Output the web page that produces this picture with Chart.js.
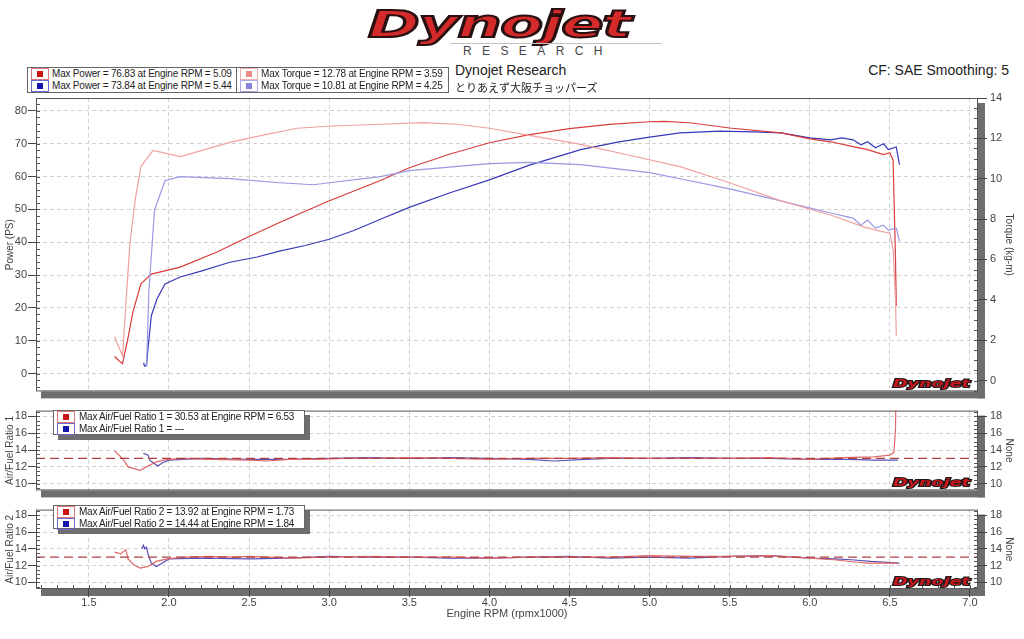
<!DOCTYPE html>
<html>
<head>
<meta charset="utf-8">
<script src="https://cdn.jsdelivr.net/npm/chart.js@4.4.0/dist/chart.umd.min.js"></script>
<style>
body { margin:0; width:1024px; height:639px; background:#fff; position:relative; overflow:hidden;
       font-family:"Liberation Sans", Arial, sans-serif; color:#222; }
canvas { position:absolute; left:0; z-index:1; }
.abs { position:absolute; z-index:3; white-space:nowrap; }
.lg { position:absolute; z-index:3; background:#fff; border:1px solid #666; box-sizing:border-box; font-size:10px; letter-spacing:-0.2px; }
.lg .row { position:relative; height:12px; line-height:12px; padding-left:24px; white-space:nowrap; overflow:hidden; }
.lg .sw { position:absolute; left:3px; top:0; width:18px; height:12px; border:1px solid; box-sizing:border-box; }
.lg .sw i { position:absolute; left:5px; top:2px; width:6px; height:6px; }
.afr { letter-spacing:-0.25px; }
.afr .row { padding-left:25px; }
.shadow { box-shadow:5px 5px 0 #6e6e6e; }
#logo { left:368px; top:2px; font:italic bold 40px "DejaVu Sans"; color:#d42a2a;
        -webkit-text-stroke:2.2px #2a1010; transform-origin:0 0; letter-spacing:-1px; }
</style>
</head>
<body>

<div id="logo" class="abs">Dynojet</div>
<div class="abs" style="left:450px; top:43px; width:212px; height:1px; background:#c4c4c4"></div>
<div class="abs" style="left:463px; top:44px; font-size:12px; color:#444; letter-spacing:10.4px">RESEARCH</div>

<div class="lg" style="left:27px; top:67px; width:215px; height:26px">
  <div class="row"><span class="sw" style="border-color:#e07a7a"><i style="background:#cc1515"></i></span>Max Power = 76.83 at Engine RPM = 5.09</div>
  <div class="row"><span class="sw" style="border-color:#6a6ad0"><i style="background:#1515b0"></i></span>Max Power = 73.84 at Engine RPM = 5.44</div>
</div>
<div class="lg" style="left:236px; top:67px; width:213px; height:26px; z-index:4">
  <div class="row"><span class="sw" style="border-color:#f0b0b0"><i style="background:#ec8a8a"></i></span>Max Torque = 12.78 at Engine RPM = 3.59</div>
  <div class="row"><span class="sw" style="border-color:#aaaaea"><i style="background:#8585dc"></i></span>Max Torque = 10.81 at Engine RPM = 4.25</div>
</div>

<div class="abs" style="left:455px; top:62px; font-size:14px; color:#222">Dynojet Research</div>
<div class="abs" style="left:455px; top:79px; font-size:11px; font-family:'Noto Sans CJK JP'; color:#222">とりあえず大阪チョッパーズ</div>
<div class="abs" style="right:15px; top:62px; font-size:14px; color:#222">CF: SAE Smoothing: 5</div>

<div class="lg shadow afr" style="left:53px; top:410px; width:252px; height:25px">
  <div class="row"><span class="sw" style="border-color:#e07a7a"><i style="background:#cc1515"></i></span>Max Air/Fuel Ratio 1 = 30.53 at Engine RPM = 6.53</div>
  <div class="row"><span class="sw" style="border-color:#6a6ad0"><i style="background:#1515b0"></i></span>Max Air/Fuel Ratio 1 = ---</div>
</div>
<div class="lg shadow afr" style="left:53px; top:505px; width:252px; height:24px">
  <div class="row"><span class="sw" style="border-color:#e07a7a"><i style="background:#cc1515"></i></span>Max Air/Fuel Ratio 2 = 13.92 at Engine RPM = 1.73</div>
  <div class="row"><span class="sw" style="border-color:#6a6ad0"><i style="background:#1515b0"></i></span>Max Air/Fuel Ratio 2 = 14.44 at Engine RPM = 1.84</div>
</div>

<canvas id="cPower" width="1024" height="315" style="top:86px"></canvas>
<canvas id="cAfr1" width="1024" height="99" style="top:401px"></canvas>
<canvas id="cAfr2" width="1024" height="139" style="top:500px"></canvas>

<script>
// axis ranges
const X_MIN = 1.17, X_MAX = 7.05;
const PS_MIN = -5.45, PS_MAX = 83.94;
const TQ_MIN = -0.54, TQ_MAX = 14;
const AFR_MIN = 9.21, AFR_MAX = 18.68;
const AFR_TARGET = 13;

// run 1 (red) power, PS
const pw1Rpm = [1.66,1.69,1.71,1.745,1.775,1.825,1.89,2.07,2.3,2.49,2.69,2.99,3.32,3.5,3.75,4.0,4.25,4.5,4.75,5.0,5.09,5.25,5.5,5.82,6.0,6.13,6.3,6.36,6.46,6.5,6.52,6.535,6.54];
const pw1Val = [5.2,3.8,3.0,11,18.8,27.3,30.3,32.4,37,41.5,46,52.4,58.8,62.7,66.8,70.3,72.8,74.6,75.9,76.7,76.83,76.4,74.8,73.3,71.5,70.6,68.8,68.2,66.7,67.3,65,35,20.6];
// run 2 (blue) power, PS
const pw2Rpm = [1.84,1.85,1.86,1.87,1.89,1.925,1.975,2.07,2.2,2.38,2.55,2.69,2.85,3.0,3.15,3.32,3.5,3.75,4.0,4.25,4.57,4.8,5.0,5.19,5.44,5.65,5.82,6.0,6.13,6.2,6.27,6.32,6.36,6.41,6.46,6.49,6.54,6.56];
const pw2Val = [3.0,2.2,2.5,8,17.6,22.7,27.3,29.4,31.2,33.9,35.5,37.3,39,40.9,43.5,47,50.6,55,59,63.5,68.2,70.5,72,73.3,73.84,73.6,73.3,71.8,71.2,71.8,71.2,69.7,70.6,68.8,70,68.2,69,63.6];
// run 1 torque, kg-m
const tq1Rpm = [1.66,1.69,1.71,1.756,1.79,1.825,1.9,2.07,2.38,2.61,2.8,2.99,3.32,3.59,3.8,4.0,4.25,4.57,4.88,5.19,5.5,5.82,6.13,6.34,6.44,6.5,6.52,6.535,6.54];
const tq1Val = [2.16,1.6,1.23,6.8,9.0,10.6,11.4,11.1,11.8,12.2,12.5,12.6,12.7,12.78,12.7,12.5,12.15,11.7,11.15,10.6,9.8,8.9,8.2,7.6,7.4,7.3,6.5,4.0,2.2];
// run 2 torque, kg-m
const tq2Rpm = [1.84,1.86,1.875,1.91,1.975,2.07,2.38,2.69,2.9,3.0,3.32,3.5,4.0,4.25,4.57,5.0,5.19,5.5,5.82,6.13,6.27,6.32,6.36,6.41,6.46,6.49,6.54,6.56];
const tq2Val = [0.9,0.74,4.5,8.45,9.9,10.1,10.0,9.8,9.7,9.8,10.1,10.4,10.75,10.81,10.7,10.3,10.0,9.5,8.9,8.3,8.05,7.7,7.95,7.55,7.7,7.45,7.55,6.9];
// air/fuel ratio 1
const a1rRpm = [1.66,1.71,1.745,1.8,1.82,1.86,1.92,1.99,2.1,2.25,2.5,2.61,2.75,2.93,3.1,3.3,3.5,3.75,4.0,4.25,4.5,4.75,5.0,5.25,5.5,5.75,6.0,6.2,6.4,6.5,6.525,6.535,6.545];
const a1rVal = [13.9,13.0,12.0,11.7,11.6,12.0,12.6,12.9,13.0,12.9,12.8,12.7,12.9,12.9,13.0,13.0,13.1,13.0,12.9,13.0,13.0,13.1,13.0,13.0,13.0,13.1,12.9,13.1,13.2,13.4,13.7,16.4,30.53];
const a1bRpm = [1.84,1.87,1.88,1.93,1.96,2.0,2.2,2.5,2.75,3.0,3.25,3.5,3.75,4.0,4.25,4.4,4.6,4.75,5.0,5.25,5.5,5.75,6.0,6.25,6.4,6.55];
const a1bVal = [13.6,13.4,12.8,12.1,12.5,12.8,13.0,12.9,12.9,13.0,13.1,13.0,13.1,13.0,12.9,12.7,12.9,13.0,13.0,13.1,13.0,13.0,12.9,12.9,12.8,12.8];
// air/fuel ratio 2
const a2rRpm = [1.66,1.7,1.73,1.745,1.78,1.82,1.87,1.92,1.99,2.1,2.25,2.4,2.5,2.75,3.0,3.25,3.5,3.75,4.0,4.25,4.5,4.75,5.0,5.25,5.5,5.75,6.0,6.15,6.3,6.36,6.55];
const a2rVal = [13.6,13.4,13.92,12.8,12.1,11.7,11.9,12.5,12.8,13.0,13.1,13.0,13.1,12.9,13.0,13.1,13.0,13.0,12.9,13.0,13.0,13.0,13.2,13.1,13.1,13.2,12.9,12.7,12.4,12.3,12.3];
const a2bRpm = [1.83,1.84,1.85,1.86,1.87,1.89,1.92,1.96,2.0,2.2,2.5,2.75,3.0,3.25,3.5,3.75,4.0,4.25,4.5,4.75,5.0,5.25,5.5,5.75,6.0,6.15,6.26,6.38,6.56];
const a2bVal = [14.0,14.44,14.0,14.2,13.3,12.3,11.9,12.3,12.8,12.9,12.8,12.9,13.1,13.0,13.0,12.9,12.9,13.0,13.1,12.9,13.0,12.9,13.1,13.2,12.9,12.8,12.7,12.5,12.3];

Chart.defaults.font.family = '"Liberation Sans", Arial, sans-serif';
Chart.defaults.color = '#444';

function pts(xs, ys) {
    return xs.map(function (x, i) { return { x: x, y: ys[i] }; });
}
function line(data, color, yAxis, extra) {
    return Object.assign({ data: data, borderColor: color, borderWidth: 1.2, pointRadius: 0, tension: 0, yAxisID: yAxis }, extra || {});
}

// frame, drop shadow, minor ticks and the little logo
const dynoFrame = {
    id: 'dynoFrame',
    beforeDraw(chart) {
        const a = chart.chartArea, ctx = chart.ctx;
        ctx.save();
        ctx.fillStyle = '#6e6e6e';
        ctx.fillRect(a.right, a.top + 5, 7, a.bottom - a.top + 2);
        ctx.fillRect(a.left + 5, a.bottom, a.right - a.left + 2, 7);
        ctx.restore();
    },
    afterDatasetsDraw(chart, args, opts) {
        const a = chart.chartArea, ctx = chart.ctx;
        ctx.save();
        ctx.strokeStyle = '#555';
        ctx.lineWidth = 1;
        ctx.beginPath();
        (opts.minor || []).forEach(function (m) {
            const sc = chart.scales[m.id];
            const n0 = Math.ceil(sc.min / m.step), n1 = Math.floor(sc.max / m.step);
            for (let n = n0; n <= n1; n++) {
                const p = Math.round(sc.getPixelForValue(n * m.step)) + 0.5;
                if (m.id === 'x') { ctx.moveTo(p, a.bottom); ctx.lineTo(p, a.bottom - 4); }
                else if (sc.position === 'left') { ctx.moveTo(a.left, p); ctx.lineTo(a.left + 4, p); }
                else { ctx.moveTo(a.right, p); ctx.lineTo(a.right - 4, p); }
            }
        });
        ctx.stroke();
        ctx.strokeStyle = '#555';
        ctx.strokeRect(a.left + 0.5, a.top + 0.5, a.right - a.left - 1, a.bottom - a.top - 1);

        // small Dynojet mark, bottom right
        ctx.font = 'italic bold 11px "DejaVu Sans"';
        const w = ctx.measureText('Dynojet').width;
        ctx.translate(a.right - 85, a.bottom - 4);
        ctx.save();
        ctx.scale(77 / w, 1);
        ctx.lineWidth = 2;
        ctx.strokeStyle = '#1a1a1a';
        ctx.strokeText('Dynojet', 0, 0);
        ctx.fillStyle = '#c8161d';
        ctx.fillText('Dynojet', 0, 0);
        ctx.restore();
        ctx.fillStyle = '#777';
        for (let i = 0; i < 9; i++) ctx.fillRect(32 + i * 4, 3, 1.5, 1);
        ctx.restore();
    }
};

const gridStyle = { color: '#d0d0d0', tickColor: '#444', borderDash: [4, 3] };

function xScale(showLabels) {
    const s = {
        type: 'linear', min: X_MIN, max: X_MAX,
        grid: Object.assign({}, gridStyle, { drawTicks: showLabels, tickLength: 8 }),
        border: { display: false, dash: [4, 3] },
        ticks: { display: showLabels, stepSize: 0.5, includeBounds: false, maxRotation: 0, padding: -1,
                 font: { size: 11 }, callback: function (v) { return Number(v).toFixed(1); } }
    };
    if (showLabels) {
        s.title = { display: true, text: 'Engine RPM (rpmx1000)', font: { size: 11 }, padding: { top: 0, bottom: 18 } };
        s.afterFit = function (sc) { sc.height = 50; };
    }
    return s;
}
function leftScale(min, max, step, title) {
    return {
        position: 'left', min: min, max: max,
        afterFit: function (sc) { sc.width = 36; },
        grid: Object.assign({}, gridStyle, { tickLength: 8 }),
        border: { display: false, dash: [4, 3] },
        ticks: { stepSize: step, includeBounds: false, padding: 1, font: { size: 11 } },
        title: { display: true, text: title, font: { size: 10 }, padding: { top: 4, bottom: 0 } }
    };
}
function rightScale(min, max, step, title) {
    return {
        position: 'right', min: min, max: max,
        afterFit: function (sc) { sc.width = 46; },
        grid: { drawOnChartArea: false, tickColor: '#444', tickLength: 9 },
        border: { display: false },
        ticks: { stepSize: step, includeBounds: false, padding: 3, font: { size: 11 } },
        title: { display: true, text: title, font: { size: 10 }, padding: { top: 9, bottom: 0 } }
    };
}
function baseOptions(pad, scales, minor) {
    return {
        responsive: false, animation: false, events: [],
        layout: { padding: pad },
        plugins: { legend: { display: false }, tooltip: { enabled: false }, dynoFrame: { minor: minor } },
        scales: scales
    };
}

const RED = '#d83c3c', BLUE = '#3838b8', PINK = '#f0a0a0', LBLUE = '#9898e4';
const AFR_RED = '#e06868', AFR_BLUE = '#5a50b8', TARGET = '#b04040';

new Chart(document.getElementById('cPower'), {
    type: 'line',
    data: { datasets: [
        line(pts(tq1Rpm, tq1Val), PINK, 'y2'),
        line(pts(tq2Rpm, tq2Val), LBLUE, 'y2'),
        line(pts(pw1Rpm, pw1Val), RED, 'y'),
        line(pts(pw2Rpm, pw2Val), BLUE, 'y')
    ] },
    options: baseOptions({ top: 12, bottom: 8, left: 0, right: 0 }, {
        x: xScale(false),
        y: leftScale(PS_MIN, PS_MAX, 10, 'Power (PS)'),
        y2: rightScale(TQ_MIN, TQ_MAX, 2, 'Torque (kg-m)')
    }, [{ id: 'y', step: 2 }, { id: 'y2', step: 0.5 }]),
    plugins: [dynoFrame]
});

function afrChart(id, rRpm, rVal, bRpm, bVal, title, showX, pad) {
    return new Chart(document.getElementById(id), {
        type: 'line',
        data: { datasets: [
            line(pts([X_MIN, X_MAX], [AFR_TARGET, AFR_TARGET]), TARGET, 'y', { borderDash: [9, 5] }),
            line(pts(rRpm, rVal), AFR_RED, 'y'),
            line(pts(bRpm, bVal), AFR_BLUE, 'y')
        ] },
        options: baseOptions(pad, {
            x: xScale(showX),
            y: leftScale(AFR_MIN, AFR_MAX, 2, title),
            y2: rightScale(AFR_MIN, AFR_MAX, 2, 'None')
        }, showX ? [{ id: 'y', step: 0.5 }, { id: 'y2', step: 0.5 }, { id: 'x', step: 0.1 }]
                 : [{ id: 'y', step: 0.5 }, { id: 'y2', step: 0.5 }]),
        plugins: [dynoFrame]
    });
}
afrChart('cAfr1', a1rRpm, a1rVal, a1bRpm, a1bVal, 'Air/Fuel Ratio 1', false, { top: 7, bottom: 8, left: 0, right: 0 });
afrChart('cAfr2', a2rRpm, a2rVal, a2bRpm, a2bVal, 'Air/Fuel Ratio 2', true, { top: 5, bottom: 0, left: 0, right: 0 });

// stretch the header logo to its box
const logo = document.getElementById('logo');
logo.style.transform = 'scale(' + (262 / logo.offsetWidth) + ',0.95)';
</script>
</body>
</html>
